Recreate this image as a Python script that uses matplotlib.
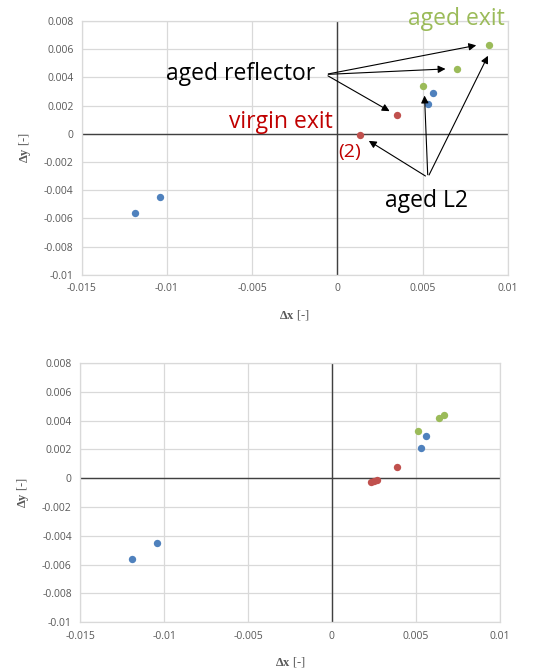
import numpy as np
import matplotlib
matplotlib.use('Agg')
import matplotlib.pyplot as plt

figSize = (5.45, 6.72)

# top chart data
blueX1 = [-0.0119, -0.0104, 0.0053, 0.0056]
blueY1 = [-0.0056, -0.0045, 0.0021, 0.0029]
greenX1 = [0.0050, 0.0070, 0.0089]
greenY1 = [0.0034, 0.0046, 0.0063]
redX1 = [0.0013, 0.0035]
redY1 = [-0.0001, 0.0013]

# bottom chart data
blueX2 = [-0.0119, -0.0104, 0.0053, 0.0056]
blueY2 = [-0.0056, -0.0045, 0.0021, 0.0029]
greenX2 = [0.0051, 0.0064, 0.0067]
greenY2 = [0.0033, 0.0042, 0.0044]
redX2 = [0.0023, 0.0025, 0.0027, 0.0039]
redY2 = [-0.0003, -0.0002, -0.0001, 0.0008]

xTicks = [-0.015, -0.01, -0.005, 0, 0.005, 0.01]
xTickLabels = ['-0.015', '-0.01', '-0.005', '0', '0.005', '0.01']
yTicks = [-0.01, -0.008, -0.006, -0.004, -0.002, 0, 0.002, 0.004, 0.006, 0.008]
yTickLabels = ['-0.01', '-0.008', '-0.006', '-0.004', '-0.002', '0',
               '0.002', '0.004', '0.006', '0.008']

cBlue = '#4F81BD'
cRed = '#C0504D'
cGreen = '#9BBB59'
gridC = '#D9D9D9'
tickC = '#595959'

plt.rcParams['font.family'] = ['Open Sans', 'DejaVu Sans']
plt.rcParams['mathtext.fontset'] = 'custom'
plt.rcParams['mathtext.bf'] = 'Liberation Serif:bold'
plt.rcParams['mathtext.rm'] = 'Liberation Serif'


def setup(ax, bx, by, gx, gy, rx, ry):
    ax.set_xlim(-0.015, 0.01)
    ax.set_ylim(-0.01, 0.008)
    ax.set_xticks(xTicks)
    ax.set_xticklabels(xTickLabels)
    ax.set_yticks(yTicks)
    ax.set_yticklabels(yTickLabels)
    ax.tick_params(length=0, labelsize=7.5, labelcolor=tickC, pad=6)
    ax.grid(True, color=gridC, lw=0.9)
    ax.set_axisbelow(True)
    for s in ax.spines.values():
        s.set_color(gridC)
        s.set_linewidth(0.9)
    ax.axhline(0, color='#404040', lw=1.0, zorder=1)
    ax.axvline(0, color='#404040', lw=1.0, zorder=1)
    ax.scatter(bx, by, s=28, color=cBlue, zorder=3, linewidths=0)
    ax.scatter(gx, gy, s=28, color=cGreen, zorder=3, linewidths=0)
    ax.scatter(rx, ry, s=28, color=cRed, zorder=3, linewidths=0)
    ax.set_xlabel(r'$\mathbf{\Delta x}$ [-]', fontsize=9, color=tickC,
                  family='Liberation Serif', labelpad=10)
    ax.set_ylabel(r'$\mathbf{\Delta y}$ [-]', fontsize=9, color=tickC,
                  family='Liberation Serif', labelpad=8)


fig = plt.figure(figsize=figSize, dpi=100)
ax1 = fig.add_axes([0.150, 0.591, 0.782, 0.378])
ax2 = fig.add_axes([0.147, 0.074, 0.770, 0.386])
setup(ax1, blueX1, blueY1, greenX1, greenY1, redX1, redY1)
setup(ax2, blueX2, blueY2, greenX2, greenY2, redX2, redY2)

# annotations on top chart
arrowProps = dict(arrowstyle='-|>', color='black', lw=0.8, mutation_scale=11)
src = (-0.0007, 0.0042)
for tgt in [(0.0083, 0.0063), (0.0065, 0.0046), (0.0032, 0.0015)]:
    ax1.annotate('', xy=tgt, xytext=src, arrowprops=arrowProps)
ax1.text(-0.0013, 0.0042, 'aged reflector', fontsize=16.5, ha='right', va='center')

src2 = (0.0053, -0.0031)
for tgt in [(0.0017, -0.0004), (0.0051, 0.0029), (0.0089, 0.0057)]:
    ax1.annotate('', xy=tgt, xytext=src2, arrowprops=arrowProps)
ax1.text(0.0052, -0.0048, 'aged L2', fontsize=16.5, ha='center', va='center')

ax1.text(-0.0003, 0.0008, 'virgin exit', fontsize=16.5, ha='right', va='center', color='#C00000')
ax1.text(0.0007, -0.0013, '(2)', fontsize=14, ha='center', va='center', color='#C00000')
ax1.text(0.0098, 0.0081, 'aged exit', fontsize=16.5, ha='right', va='center', color=cGreen,
         clip_on=False)

fig.savefig('out.png', dpi=100)
